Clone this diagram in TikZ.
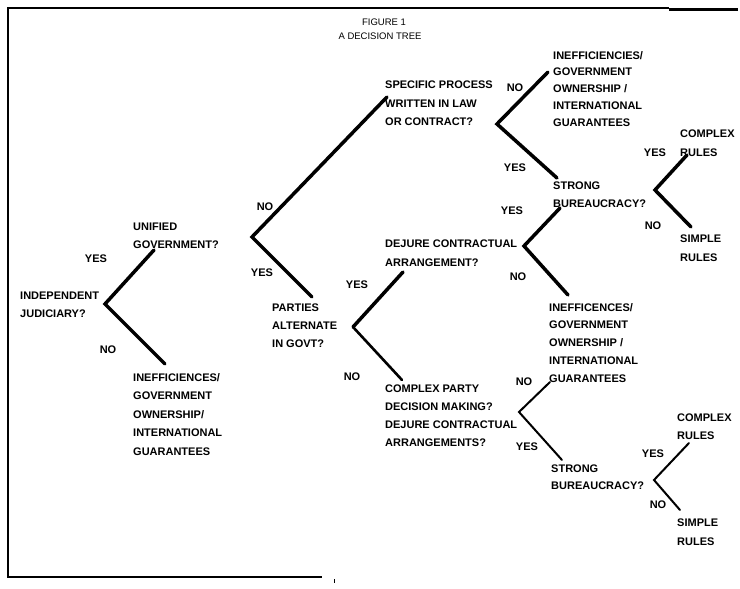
\documentclass[tikz,border=0pt]{standalone}
\usepackage{fontspec}
\setmainfont{Liberation Sans}
\newcommand{\blk}[2][18]{{\fontsize{11}{#1}\selectfont\begin{tabular}[t]{@{}l@{}}#2\end{tabular}}}
\begin{document}
\begin{tikzpicture}[x=1pt,y=-1pt,
  txt/.style={anchor=base west,inner sep=0pt,font=\fontsize{11}{18}\selectfont\bfseries},
  lbl/.style={inner sep=0pt,font=\fontsize{11}{18}\selectfont\bfseries},
  ttl/.style={inner sep=0pt,anchor=base,font=\fontsize{9.5}{11}\selectfont},
  bigbranch/.style={line width=3.5pt,line cap=round,line join=miter},
  midbranch/.style={line width=2.6pt,line cap=round,line join=miter},
  smallbranch/.style={line width=2pt,line cap=round,line join=miter},
  frameline/.style={line width=1.5pt}]
\useasboundingbox (0,0) rectangle (740,589);
% frame
\coordinate (f1) at (7,8);
\coordinate (f2) at (669,8);
\coordinate (f3) at (669,9.5);
\coordinate (f4) at (738,9.5);
\coordinate (f5) at (8,577);
\coordinate (f6) at (322,577);
\coordinate (t1) at (334,579);
\coordinate (t2) at (334,583);
\draw[frameline] (f1) -- (f2);
\draw[line width=2.2pt] (f3) -- (f4);
\draw[frameline] (8,7.5) -- (f5) -- (f6);
\draw[line width=0.6pt] (t1) -- (t2);
% title
\node[ttl] (fig) at (384,25) {FIGURE 1};
\node[ttl] (dt) at (380,39) {A DECISION TREE};

% tree 1
\node[txt] (ij) at (20,299) {\blk{INDEPENDENT\\JUDICIARY?}};
\coordinate (v1) at (105,304);
\node[txt] (ug) at (133,230) {\blk{UNIFIED\\GOVERNMENT?}};
\coordinate (v1y) at (154,250);
\node[txt] (ie1) at (133,381) {\blk[18.5]{INEFFICIENCES/\\GOVERNMENT\\OWNERSHIP/\\INTERNATIONAL\\GUARANTEES}};
\coordinate (v1n) at (165,364);
\draw[bigbranch] (v1y) -- (v1) -- (v1n);
\node[lbl] (y1) at (96,259) {YES};
\node[lbl] (n1) at (108,350) {NO};

% tree 2
\coordinate (v2) at (252,237);
\coordinate (v2n) at (387,97);
\coordinate (v2y) at (312,297);
\draw[bigbranch] (v2n) -- (v2) -- (v2y);
\node[lbl] (n2) at (265,207) {NO};
\node[lbl] (y2) at (262,273) {YES};
\node[txt] (pa) at (272,311) {\blk{PARTIES\\ALTERNATE\\IN GOVT?}};

% tree 3a
\node[txt] (sp) at (385,88) {\blk[19]{SPECIFIC PROCESS\\WRITTEN IN LAW\\OR CONTRACT?}};
\coordinate (v3) at (497,124);
\coordinate (v3n) at (548,72);
\coordinate (v3y) at (557,178);
\draw[bigbranch] (v3n) -- (v3) -- (v3y);
\node[lbl] (n3) at (515,88) {NO};
\node[lbl] (y3) at (515,168) {YES};
\node[txt] (ie2) at (553,59) {\blk[17]{INEFFICIENCIES/\\GOVERNMENT\\OWNERSHIP /\\INTERNATIONAL\\GUARANTEES}};
\node[txt] (sb1) at (553,189) {\blk{STRONG\\BUREAUCRACY?}};
\coordinate (v7) at (655,190);
\coordinate (v7y) at (687,155);
\coordinate (v7n) at (691,227);
\draw[bigbranch] (v7y) -- (v7) -- (v7n);
\node[lbl] (y7) at (655,153) {YES};
\node[lbl] (n7) at (653,226) {NO};
\node[txt] (cr1) at (680,137) {\blk[19]{COMPLEX\\RULES}};
\node[txt] (sr1) at (680,242) {\blk[19]{SIMPLE\\RULES}};

% tree 3b
\node[txt] (dj) at (385,247) {\blk[19]{DEJURE CONTRACTUAL\\ARRANGEMENT?}};
\coordinate (v4) at (524,246);
\coordinate (v4y) at (560,208);
\coordinate (v4n) at (568,295);
\draw[bigbranch] (v4y) -- (v4) -- (v4n);
\node[lbl] (y4) at (512,211) {YES};
\node[lbl] (n4) at (518,277) {NO};
\node[txt] (ie3) at (549,311) {\blk[17.8]{INEFFICENCES/\\GOVERNMENT\\OWNERSHIP /\\INTERNATIONAL\\GUARANTEES}};

% tree 4
\coordinate (v5) at (353,327);
\coordinate (v5y) at (403,272);
\coordinate (v5n) at (402,380);
\draw[bigbranch] (v5y) -- (v5);
\draw[midbranch] (v5) -- (v5n);
\node[lbl] (y5) at (357,285) {YES};
\node[lbl] (n5) at (352,377) {NO};
\node[txt] (cp) at (385,392) {\blk[18.3]{COMPLEX PARTY\\DECISION MAKING?\\DEJURE CONTRACTUAL\\ARRANGEMENTS?}};
\coordinate (v6) at (519,412);
\coordinate (v6n) at (550,382);
\coordinate (v6y) at (562,460);
\draw[smallbranch] (v6n) -- (v6) -- (v6y);
\node[lbl] (n6) at (524,382) {NO};
\node[lbl] (y6) at (527,447) {YES};
\node[txt] (sb2) at (551,472) {\blk[17.5]{STRONG\\BUREAUCRACY?}};
\coordinate (v8) at (654,480);
\coordinate (v8y) at (689,443);
\coordinate (v8n) at (680,510);
\draw[smallbranch] (v8y) -- (v8) -- (v8n);
\node[lbl] (y8) at (653,454) {YES};
\node[lbl] (n8) at (658,505) {NO};
\node[txt] (cr2) at (677,421) {\blk[18.5]{COMPLEX\\RULES}};
\node[txt] (sr2) at (677,526) {\blk[19]{SIMPLE\\RULES}};
\end{tikzpicture}
\end{document}
